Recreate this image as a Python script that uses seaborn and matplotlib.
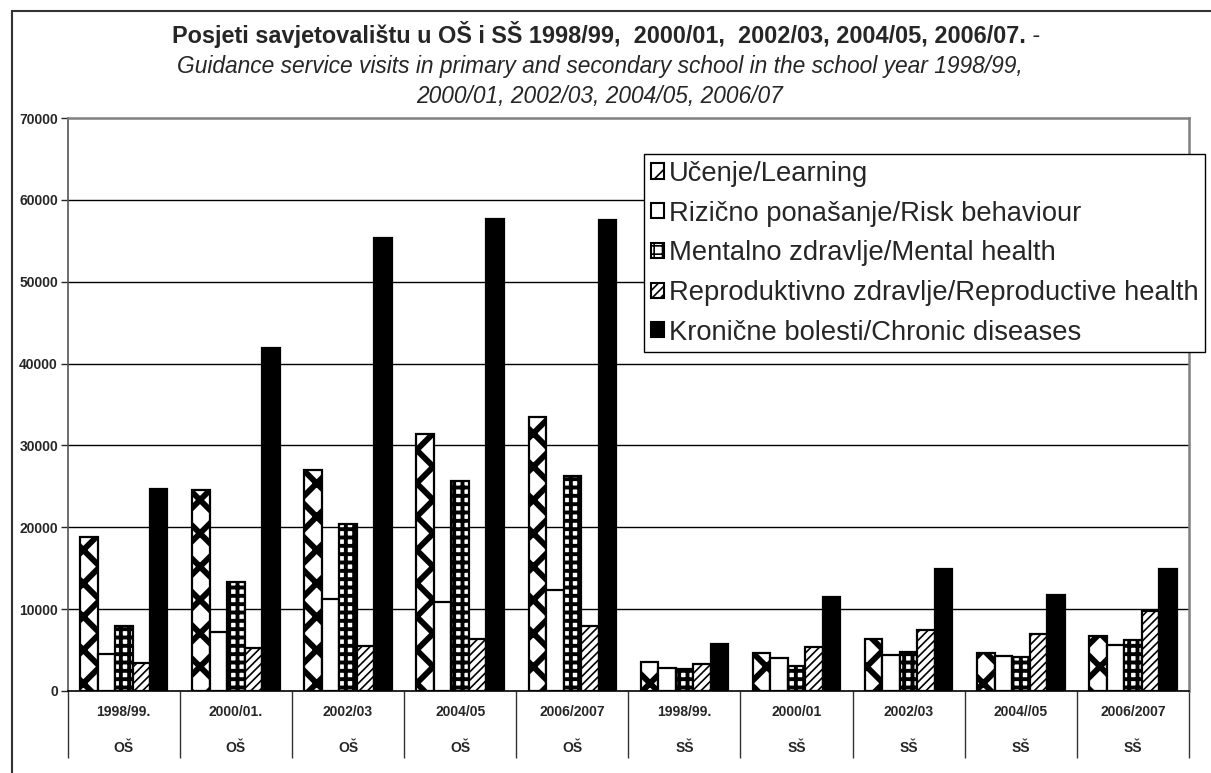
import matplotlib
matplotlib.use("Agg")
import matplotlib.pyplot as plt
import matplotlib.transforms as mtransforms
from matplotlib.patches import Patch, Rectangle
import numpy as np
import pandas as pd
import seaborn as sns

# ---------------- data ----------------
years = ["1998/99.", "2000/01.", "2002/03", "2004/05", "2006/2007",
         "1998/99.", "2000/01", "2002/03", "2004//05", "2006/2007"]
schools = ["OŠ", "OŠ", "OŠ", "OŠ", "OŠ", "SŠ", "SŠ", "SŠ", "SŠ", "SŠ"]
series = ["Učenje/Learning",
          "Rizično ponašanje/Risk behaviour",
          "Mentalno zdravlje/Mental health",
          "Reproduktivno zdravlje/Reproductive health",
          "Kronične bolesti/Chronic diseases"]
learning = [18800, 24500, 26950, 31450, 33450, 3550, 4600, 6400, 4650, 6700]
risk = [4500, 7200, 11300, 10900, 12300, 2750, 4000, 4450, 4250, 5600]
mental = [7950, 13300, 20400, 25700, 26250, 2650, 3100, 4800, 4150, 6250]
reproductive = [3400, 5300, 5500, 6400, 7950, 3250, 5400, 7450, 6950, 9750]
chronic = [24700, 41900, 55400, 57650, 57600, 5750, 11450, 14900, 11750, 14900]
y_ticks = [0, 10000, 20000, 30000, 40000, 50000, 60000, 70000]

title_1 = "Posjeti savjetovalištu u OŠ i SŠ 1998/99,  2000/01,  2002/03, 2004/05, 2006/07."
title_1_tail = " -"
title_2 = "Guidance service visits in primary and secondary school in the school year 1998/99,"
title_3 = "2000/01, 2002/03, 2004/05, 2006/07"

# ---------------- styling ----------------
sns.set_style("white")
plt.rcParams["font.family"] = ["Liberation Sans", "DejaVu Sans"]
plt.rcParams["hatch.linewidth"] = 1.2

face_colors = ["white", "white", "white", "white", "black"]
hatches = ["x", None, "++", "////", None]
hatch_lw = [4.2, 1.0, 2.8, 1.2, 1.0]

keys = [f"{y}|{s}|{i}" for i, (y, s) in enumerate(zip(years, schools))]
values = [learning, risk, mental, reproductive, chronic]
rows = []
for sname, vals in zip(series, values):
    for k, v in zip(keys, vals):
        rows.append({"cat": k, "series": sname, "value": v})
df = pd.DataFrame(rows)

fig = plt.figure(figsize=(12.11, 7.73), dpi=100)
W, H = 1211, 773
ax_left, ax_right, ax_top, ax_bottom = 67.7, 1189, 118, 691
ax = fig.add_axes([ax_left / W, 1 - ax_bottom / H,
                   (ax_right - ax_left) / W, (ax_bottom - ax_top) / H])

sns.barplot(data=df, x="cat", y="value", hue="series", order=keys,
            hue_order=series, palette=face_colors, width=0.78, gap=0,
            edgecolor="black", linewidth=1.6, saturation=1, legend=False,
            errorbar=None, ax=ax, zorder=3)

for cont, h, hl in zip(ax.containers, hatches, hatch_lw):
    for bar in cont:
        bar.set_edgecolor("black")
        if h:
            bar.set_hatch(h)
            if hasattr(bar, "set_hatch_linewidth"):
                bar.set_hatch_linewidth(hl)

ax.set_xlim(-0.5, len(keys) - 0.5)
ax.set_ylim(0, 70000)
ax.set_yticks(y_ticks)
ax.set_yticklabels([str(t) for t in y_ticks], fontsize=10, fontweight="bold")
ax.tick_params(axis="y", length=5, width=1, pad=2, direction="out", left=True)
ax.set_xticks([])
ax.set_xlabel("")
ax.set_ylabel("")

# horizontal gridlines
for t in y_ticks[1:-1]:
    ax.axhline(t, color="black", lw=1.0, zorder=1)

for side in ["top", "right", "left"]:
    ax.spines[side].set_color("#808080")
    ax.spines[side].set_linewidth(1.8)
ax.spines["left"].set_color("#555555")
ax.spines["left"].set_linewidth(1.2)
ax.spines["bottom"].set_color("black")
ax.spines["bottom"].set_linewidth(1.2)

# category labels (two levels) and separators
trans = mtransforms.blended_transform_factory(ax.transData, ax.transAxes)
axh = ax_bottom - ax_top
sep_bottom = -(758 - ax_bottom) / axh
ax.vlines(np.arange(len(keys) + 1) - 0.5, sep_bottom, 0, transform=trans,
          colors="#333333", lw=1.0, clip_on=False)
for i, (y, s) in enumerate(zip(years, schools)):
    ax.text(i, -(712 - ax_bottom) / axh, y, transform=trans, ha="center",
            va="center", fontsize=10, fontweight="bold")
    ax.text(i, -(748 - ax_bottom) / axh, s, transform=trans, ha="center",
            va="center", fontsize=10, fontweight="bold")

# title
t1 = fig.text(599 / W, 1 - 35 / H, title_1, ha="center", va="center",
              fontsize=16.9, fontweight="bold")
fig.canvas.draw()
bb = t1.get_window_extent()
fig.text(bb.x1 / W, 1 - 35 / H, title_1_tail, ha="left", va="center",
         fontsize=16.9)
fig.text(600 / W, 1 - 67 / H, title_2, ha="center", va="center",
         fontsize=16.4, style="italic")
fig.text(600 / W, 1 - 96 / H, title_3, ha="center", va="center",
         fontsize=16.4, style="italic")

# legend
handles = []
for fc, h, hl in zip(face_colors, hatches, hatch_lw):
    p = Patch(facecolor=fc, edgecolor="black", hatch=h, linewidth=1.5)
    handles.append(p)
leg = ax.legend(handles, series, loc="upper left",
                bbox_to_anchor=(644 / W, 1 - 154 / H),
                bbox_transform=fig.transFigure, fontsize=19.7, frameon=True,
                fancybox=False, edgecolor="black", framealpha=1,
                handlelength=0.48, handleheight=0.48, handletextpad=0.18,
                labelspacing=0.5, borderpad=0.25, borderaxespad=0)
leg.get_frame().set_linewidth(1.0)
leg.set_zorder(10)

# outer chart border
fig.patches.append(Rectangle((12 / W, -0.05), 1.2, 1 - 11 / H + 0.05,
                             transform=fig.transFigure, fill=False,
                             edgecolor="#333333", lw=1.5))

fig.savefig("out.png", dpi=100)
